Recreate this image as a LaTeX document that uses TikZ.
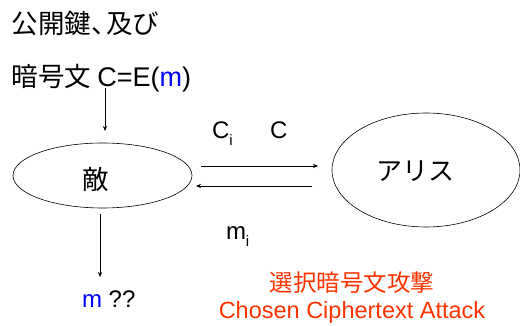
\documentclass[tikz,border=0pt]{standalone}
\usepackage{fontspec}
\setmainfont{Liberation Sans}
\newfontfamily\jpfont{Noto Sans CJK JP}
\usetikzlibrary{shapes.geometric,arrows.meta}
\definecolor{attackred}{RGB}{255,51,0}
\definecolor{msgblue}{RGB}{0,0,255}
\newcommand{\sz}[1]{\fontsize{#1}{#1}\selectfont}
\newcommand{\subi}{\raisebox{-0.27em}{\sz{15}i}}
\begin{document}
\begin{tikzpicture}[x=1pt,y=-1pt,
  blob/.style={draw,ellipse,line width=0.6pt,inner sep=0pt},
  txt/.style={inner sep=0pt,outer sep=0pt},
  arr/.style={draw,line width=0.5pt,-{Stealth[length=5pt,width=4pt]}}]
\useasboundingbox (0,0) rectangle (520,326);
% top texts
\node[txt,anchor=base west] (pk) at (12,34) {\sz{26.5}\jpfont 公開鍵、\kern-0.45em 及び};
\node[txt,anchor=base west] (ct) at (12,87) {\sz{26.5}\jpfont 暗号文\ \rmfamily\sz{27}C=E(\textcolor{msgblue}{m})};
% ellipses
\node[blob,minimum width=179pt,minimum height=65pt] (enemy) at (102.5,175.5) {};
\node[txt] (enemyt) at (95.5,179) {\sz{26.5}\jpfont 敵};
\node[blob,minimum width=188pt,minimum height=114pt] (alice) at (426,170) {};
\node[txt] (alicet) at (415,171) {\sz{26}\jpfont アリス};
% arrow coordinates
\coordinate (a1) at (105,88);
\coordinate (a2) at (105,131);
\coordinate (b1) at (100,214);
\coordinate (b2) at (100,277);
\coordinate (c1) at (201,166);
\coordinate (c2) at (318,166);
\coordinate (d1) at (312,186);
\coordinate (d2) at (196,186);
\draw[arr] (a1) -- (a2);
\draw[arr] (b1) -- (b2);
\draw[arr] (c1) -- (c2);
\draw[arr] (d1) -- (d2);
% labels
\node[txt,anchor=base west] (ci) at (212,139) {\sz{24}C\subi};
\node[txt,anchor=base west] (cc) at (270,139) {\sz{24}C};
\node[txt,anchor=base west] (mi) at (226,240) {\sz{24}m\subi};
\node[txt,anchor=base west] (mq) at (82,307) {\sz{24}\textcolor{msgblue}{m} ??};
\node[txt,text=attackred] (jp) at (352,283) {\sz{23.5}\jpfont 選択暗号文攻撃};
\node[txt,text=attackred,anchor=base] (en) at (352,318) {\sz{23.5}Chosen Ciphertext Attack};
\end{tikzpicture}
\end{document}
